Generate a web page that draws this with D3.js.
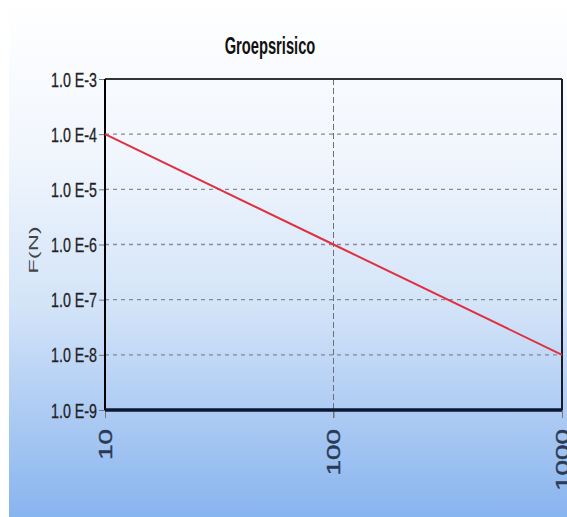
<!DOCTYPE html>
<html>
<head>
<meta charset="utf-8">
<script src="https://cdn.jsdelivr.net/npm/d3@7/dist/d3.min.js"></script>
<style>
  html, body { margin: 0; padding: 0; background: #fff; }
  svg { display: block; font-family: "Liberation Sans", Arial, sans-serif; }
</style>
</head>
<body>
<div id="chart"></div>
<script>
  // groepsrisico curve
  var nValues = [ 10 , 100 , 1000 ];
  var fValues = [ 1e-4 , 1e-6 , 1e-8 ];

  var xTicks = [ 10 , 100 , 1000 ];
  var yTicks = [ 1e-9 , 1e-8 , 1e-7 , 1e-6 , 1e-5 , 1e-4 , 1e-3 ];
  var xGrid = [ 100 ];
  var yGrid = [ 1e-8 , 1e-7 , 1e-6 , 1e-5 , 1e-4 ];

  var W = 567, H = 517;
  var plot = { left : 105 , right : 562 , top : 79 , bottom : 410 };

  var svg = d3.select( "#chart" ).append( "svg" )
    .attr( "width" , W ).attr( "height" , H );

  var defs = svg.append( "defs" );
  var grad = defs.append( "linearGradient" ).attr( "id" , "bg" )
    .attr( "x1" , 0 ).attr( "y1" , 0 ).attr( "x2" , 0 ).attr( "y2" , 1 );
  [ [ "0%" , "#ffffff" ] , [ "30%" , "#f1f6fd" ] , [ "60%" , "#d2e3f8" ] , [ "80%" , "#adcbf3" ] , [ "100%" , "#88b4ef" ] ]
    .forEach( function( s ) { grad.append( "stop" ).attr( "offset" , s[0] ).attr( "stop-color" , s[1] ); } );

  svg.append( "rect" ).attr( "x" , 0 ).attr( "y" , 0 ).attr( "width" , W ).attr( "height" , H ).attr( "fill" , "#fff" );
  svg.append( "rect" ).attr( "x" , 9 ).attr( "y" , 0 ).attr( "width" , W - 9 ).attr( "height" , H ).attr( "fill" , "url(#bg)" );

  var x = d3.scaleLog().domain( [ 10 , 1000 ] ).range( [ plot.left , plot.right ] );
  var y = d3.scaleLog().domain( [ 1e-9 , 1e-3 ] ).range( [ plot.bottom , plot.top ] );

  // grid
  svg.append( "g" ).selectAll( "line" ).data( yGrid ).join( "line" )
    .attr( "x1" , plot.left ).attr( "x2" , plot.right )
    .attr( "y1" , function( d ) { return y( d ); } ).attr( "y2" , function( d ) { return y( d ); } )
    .attr( "stroke" , "#868b96" ).attr( "stroke-width" , 1.3 ).attr( "stroke-dasharray" , "4,4" );
  svg.append( "g" ).selectAll( "line" ).data( xGrid ).join( "line" )
    .attr( "y1" , plot.top ).attr( "y2" , plot.bottom + 8 )
    .attr( "x1" , function( d ) { return x( d ); } ).attr( "x2" , function( d ) { return x( d ); } )
    .attr( "stroke" , "#6a6f7a" ).attr( "stroke-width" , 1 ).attr( "stroke-dasharray" , "6,3" );

  // y axis: ticks + labels
  var yAxis = d3.axisLeft( y ).tickValues( yTicks ).tickSize( 6 ).tickFormat( function( d ) {
    return "1.0 E" + Math.round( Math.log10( d ) );
  } );
  var gy = svg.append( "g" ).attr( "transform" , "translate(" + plot.left + ",0)" ).call( yAxis );
  gy.select( ".domain" ).remove();
  gy.selectAll( ".tick line" ).attr( "stroke" , "#777" );
  gy.selectAll( ".tick text" )
    .attr( "x" , null ).attr( "dy" , null )
    .attr( "text-anchor" , "end" ).attr( "dominant-baseline" , "central" )
    .attr( "transform" , "translate(-8,0) scale(0.68,1)" )
    .attr( "font-size" , 21 ).attr( "font-family" , "Liberation Sans, Arial, sans-serif" )
    .attr( "fill" , "#222" ).attr( "stroke" , "#222" ).attr( "stroke-width" , 0.3 );

  // x axis: ticks + rotated labels
  var xAxis = d3.axisBottom( x ).tickValues( xTicks ).tickSize( 8 ).tickFormat( d3.format( "d" ) );
  var gx = svg.append( "g" ).attr( "transform" , "translate(0," + plot.bottom + ")" ).call( xAxis );
  gx.select( ".domain" ).remove();
  gx.selectAll( ".tick line" ).attr( "stroke" , "#777" );
  gx.selectAll( ".tick text" )
    .attr( "y" , null ).attr( "dy" , null )
    .attr( "text-anchor" , "end" ).attr( "dominant-baseline" , "central" )
    .attr( "transform" , "translate(0,19) rotate(-90) scale(1.55,1)" )
    .attr( "font-size" , 18 ).attr( "font-family" , "Liberation Sans, Arial, sans-serif" )
    .attr( "fill" , "#2a3a55" ).attr( "stroke" , "#2a3a55" ).attr( "stroke-width" , 0.4 );

  // frame
  var frame = svg.append( "g" ).attr( "fill" , "none" );
  frame.append( "line" ).attr( "x1" , plot.left ).attr( "x2" , plot.right ).attr( "y1" , plot.top ).attr( "y2" , plot.top )
    .attr( "stroke" , "#333" ).attr( "stroke-width" , 2 );
  frame.append( "line" ).attr( "x1" , plot.right ).attr( "x2" , plot.right ).attr( "y1" , plot.top ).attr( "y2" , plot.bottom )
    .attr( "stroke" , "#1a1a2a" ).attr( "stroke-width" , 2 );
  frame.append( "line" ).attr( "x1" , plot.left ).attr( "x2" , plot.left ).attr( "y1" , plot.top ).attr( "y2" , plot.bottom )
    .attr( "stroke" , "#000" ).attr( "stroke-width" , 2 );
  frame.append( "line" ).attr( "x1" , plot.left ).attr( "x2" , plot.right ).attr( "y1" , plot.bottom ).attr( "y2" , plot.bottom )
    .attr( "stroke" , "#0b1833" ).attr( "stroke-width" , 3.5 );

  // curve
  var line = d3.line()
    .x( function( d , i ) { return x( nValues[ i ] ); } )
    .y( function( d ) { return y( d ); } );
  svg.append( "path" ).datum( fValues ).attr( "d" , line )
    .attr( "fill" , "none" ).attr( "stroke" , "#e0303f" ).attr( "stroke-width" , 2 );

  // titles
  svg.append( "text" ).text( "Groepsrisico" )
    .attr( "transform" , "translate(270,54) scale(0.7,1.1)" )
    .attr( "text-anchor" , "middle" ).attr( "font-weight" , "bold" ).attr( "font-size" , 21 )
    .attr( "fill" , "#111" );

  svg.append( "text" ).text( "F(N)" )
    .attr( "transform" , "translate(34,250) rotate(-90) scale(1.9,1)" )
    .attr( "text-anchor" , "middle" ).attr( "dominant-baseline" , "central" ).attr( "font-size" , 12.5 )
    .attr( "fill" , "#444" );
</script>
</body>
</html>
